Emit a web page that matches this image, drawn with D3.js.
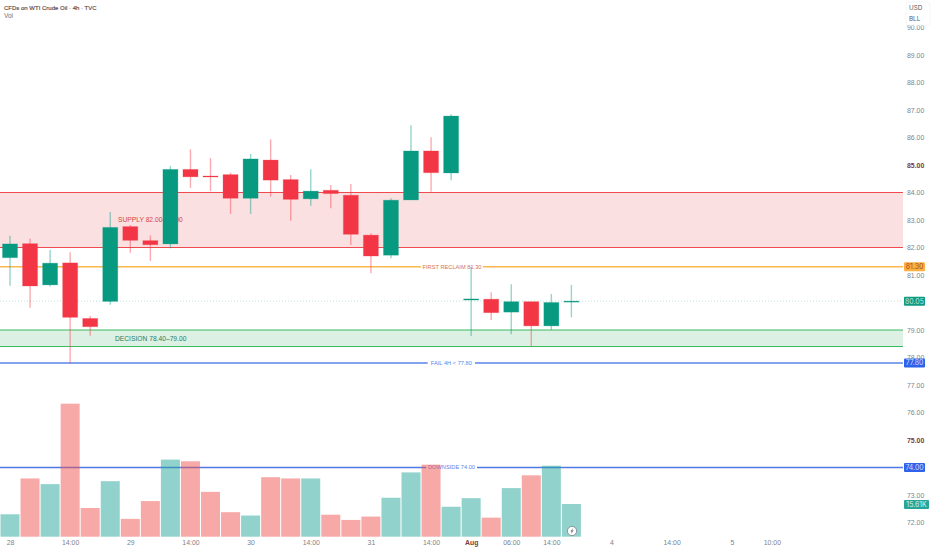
<!DOCTYPE html>
<html><head><meta charset="utf-8">
<script src="https://cdnjs.cloudflare.com/ajax/libs/d3/7.8.5/d3.min.js"></script>
<style>
html,body{margin:0;padding:0;background:#fff}
svg{display:block;font-family:Inter,"Liberation Sans",sans-serif}
.ann{font-family:"Liberation Sans",Arial,sans-serif}
</style></head><body>
<svg id="c" width="932" height="550"></svg>
<script>
const opens  = [81.63,82.14,80.64,81.44,79.42,80.04,82.76,82.25,82.13,84.84,84.60,84.65,83.79,85.18,84.47,83.77,84.08,83.90,82.45,81.72,83.73,85.51,84.71,80.09,80.12,79.65,80.03,79.15,80.03];
const highs  = [82.43,82.33,81.91,81.83,79.51,83.29,82.82,82.44,84.96,85.57,85.25,84.72,85.40,85.93,84.64,84.85,84.27,84.31,82.52,83.79,86.45,86.01,86.85,81.30,80.37,80.66,80.03,80.31,80.64];
const lows   = [80.61,79.81,80.58,77.79,78.79,79.92,81.81,81.51,81.97,84.17,84.05,83.22,83.22,83.85,82.97,83.52,83.43,82.09,81.06,81.61,83.73,84.03,84.45,78.78,79.36,78.85,78.42,79.00,79.46];
const closes = [82.13,80.60,81.43,79.46,79.12,82.73,82.26,82.10,84.84,84.57,84.58,83.79,85.22,84.45,83.75,84.05,83.96,82.48,81.69,83.72,85.51,84.72,86.78,80.13,79.63,80.03,79.15,80.00,80.05];
const volumesK = [10.7,27.8,25.1,63.5,13.7,26.5,8.5,17.0,36.8,36.0,21.4,11.7,10.1,28.4,27.8,27.8,10.5,8.0,9.6,18.6,30.7,34.4,14.3,18.4,9.1,23.2,29.3,33.9,15.61];
const volumeUp = [1,0,1,0,0,1,0,0,1,0,0,0,1,0,0,1,0,0,0,1,1,0,1,1,0,1,0,1,1];
const priceTicks = [90,89,88,87,86,85,84,83,82,81,79,78,77,76,75,73,72];
const boldPrices = [85,75];
const timeIndex  = [0,3,6,9,12,15,18,21,23,25,27,30,33,36,38];
const timeLabels = ["28","14:00","29","14:00","30","14:00","31","14:00","Aug","06:00","14:00","4","14:00","5","10:00"];
const zones = [
 {lo:82,hi:84,fill:"#fbe0e1",line:"#ef4a50",label:"SUPPLY 82.00–84.00",tx:118,txt:"#d4463f",labelPrice:83},
 {lo:78.4,hi:79,fill:"#dcf1e3",line:"#3dba62",label:"DECISION 78.40–79.00",tx:115,txt:"#2a7d60",labelPrice:78.7}
];
const levels = [
 {p:81.3,color:"#fbb84f",label:"FIRST RECLAIM 81.30",txt:"#d9705a",gap:[421,483],box:"#fbb040",boxText:"#a9462a",boxLabel:"81.30"},
 {p:77.8,color:"#5b85ea",label:"FAIL 4H < 77.80",txt:"#5b85ea",gap:[427.7,475],box:"#2f62ea",boxText:"#cfdcff",boxLabel:"77.80"},
 {p:74,color:"#4f79e4",label:"DOWNSIDE 74.00",txt:"#5b85ea",gap:[426,477],box:"#2f62ea",boxText:"#cfdcff",boxLabel:"74.00"}
];
const lastPrice = 80.05, lastVol = "15.61K";
const title = "CFDs on WTI Crude Oil · 4h · TVC";

const UP="#089981", DOWN="#f23645";
const PLOT_W=903;
const svg=d3.select("#c");
const x=d3.scaleLinear().domain([0,28]).range([10,10+28*20.05]);
const y=d3.scaleLinear().domain([90,72]).range([27.5,522.5]);
const vy=d3.scaleLinear().domain([0,15.61]).range([536.7,504]);

// zones
const zg=svg.append("g");
zones.forEach(z=>{
  zg.append("rect").attr("x",0).attr("width",PLOT_W).attr("y",y(z.hi)).attr("height",y(z.lo)-y(z.hi)).attr("fill",z.fill);
  [z.hi,z.lo].forEach(p=>zg.append("line").attr("x1",0).attr("x2",PLOT_W).attr("y1",y(p)).attr("y2",y(p)).attr("stroke",z.line).attr("stroke-width",1.2));
  zg.append("text").attr("class","ann").attr("x",z.tx).attr("y",y(z.labelPrice)).attr("dy","0.35em").attr("font-size",6.7).attr("fill",z.txt).text(z.label);
});
// levels
levels.forEach(l=>{
  [[0,l.gap[0]],[l.gap[1],PLOT_W]].forEach(s=>svg.append("line").attr("x1",s[0]).attr("x2",s[1]).attr("y1",y(l.p)).attr("y2",y(l.p)).attr("stroke",l.color).attr("stroke-width",1.3));
  svg.append("text").attr("class","ann").attr("x",(l.gap[0]+l.gap[1])/2).attr("y",y(l.p)).attr("dy","0.35em").attr("text-anchor","middle").attr("font-size",5.7).attr("fill",l.txt).text(l.label);
});
// last price dotted
svg.append("line").attr("x1",0).attr("x2",PLOT_W).attr("y1",y(lastPrice)).attr("y2",y(lastPrice)).attr("stroke","#bfe3dd").attr("stroke-width",1).attr("stroke-dasharray","1 2");

// volume
svg.append("g").selectAll("rect").data(volumesK).join("rect")
 .attr("x",(d,i)=>x(i)-9.5).attr("width",19).attr("y",d=>vy(d)).attr("height",d=>vy(0)-vy(d))
 .attr("fill",(d,i)=>volumeUp[i]?"#26a69a":"#ef5350").attr("fill-opacity",0.5);

// candles
const cg=svg.append("g").selectAll("g").data(opens).join("g");
const col=(i)=>closes[i]>=opens[i]?UP:DOWN;
cg.append("line").attr("x1",(d,i)=>x(i)).attr("x2",(d,i)=>x(i)).attr("y1",(d,i)=>y(highs[i])).attr("y2",(d,i)=>y(lows[i]))
 .attr("stroke",(d,i)=>col(i)).attr("stroke-opacity",0.42).attr("stroke-width",1.4);
cg.append("rect").attr("x",(d,i)=>x(i)-7.5).attr("width",15)
 .attr("y",(d,i)=>y(Math.max(opens[i],closes[i])))
 .attr("height",(d,i)=>Math.max(1,Math.abs(y(opens[i])-y(closes[i]))))
 .attr("fill",(d,i)=>col(i)).attr("stroke",(d,i)=>col(i)).attr("stroke-opacity",0.25).attr("stroke-width",1);

// price axis
const pa=svg.append("g").attr("transform",`translate(${PLOT_W+4},0)`)
 .call(d3.axisRight(y).tickValues(priceTicks).tickSize(0).tickPadding(0).tickFormat(d3.format(".2f")));
pa.select(".domain").remove();
pa.selectAll("text").attr("font-family",null).attr("font-size",6.9)
 .attr("fill",d=>boldPrices.includes(d)?"#7a3b40":"#80838c")
 .attr("font-weight",d=>boldPrices.includes(d)?700:400);

// time axis
const ta=svg.append("g").attr("transform","translate(0,540)")
 .call(d3.axisBottom(x).tickValues(timeIndex).tickSize(0).tickPadding(0).tickFormat((d,i)=>timeLabels[i]));
ta.select(".domain").remove();
ta.selectAll("text").attr("font-family",null).attr("font-size",6.9)
 .attr("fill",(d,i)=>timeLabels[i]==="Aug"?"#7a3b40":"#80838c")
 .attr("font-weight",(d,i)=>timeLabels[i]==="Aug"?700:400);

// right labels
function tag(cy,text,fill,tc,w){
  svg.append("rect").attr("x",904).attr("y",cy-4.5).attr("width",w).attr("height",9).attr("rx",1).attr("fill",fill);
  svg.append("text").attr("x",904+w/2).attr("y",cy).attr("dy","0.35em").attr("text-anchor","middle").attr("font-size",6.9).attr("fill",tc).text(text);
}
levels.forEach(l=>tag(y(l.p),l.boxLabel,l.box,l.boxText,21));
tag(y(lastPrice),d3.format(".2f")(lastPrice),"#0f9a82","#bfe6de",21);
tag(504.5,lastVol,"#26a69a","#d6f0ec",25);

// currency box
svg.append("rect").attr("x",906).attr("y",2).attr("width",24).attr("height",23).attr("rx",3).attr("fill","#fff").attr("stroke","#f5f6f8");
svg.append("text").attr("x",909).attr("y",7.5).attr("dy","0.35em").attr("font-size",6.3).attr("fill","#555a66").text("USD");
svg.append("text").attr("x",909).attr("y",19).attr("dy","0.35em").attr("font-size",6.3).attr("fill","#555a66").text("BLL");

// title
svg.append("text").attr("class","ann").attr("x",4).attr("y",7.5).attr("dy","0.35em").attr("font-size",6.0).attr("stroke","#5a4648").attr("stroke-width",0.15).attr("fill","#5a4648").text(title);
svg.append("text").attr("class","ann").attr("x",4).attr("y",15.5).attr("dy","0.35em").attr("font-size",6.5).attr("fill","#70737c").text("Vol");

// lightning badge
const b=svg.append("g").attr("transform","translate(572,531)");
b.append("circle").attr("r",4.6).attr("fill","#fff").attr("stroke","#7d8088").attr("stroke-width",0.8);
b.append("path").attr("d","M1,-3 L-1.6,0.5 L-0.2,0.5 L-1,3 L1.6,-0.5 L0.2,-0.5 Z").attr("fill","#70737c");
</script>
</body></html>
